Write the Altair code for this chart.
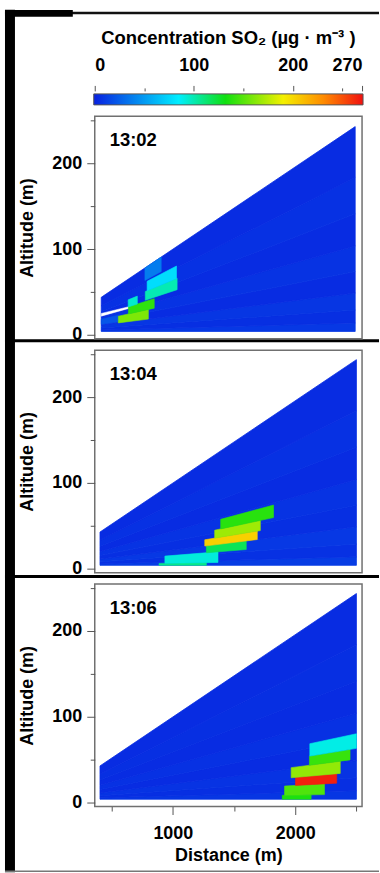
import altair as alt
import pandas as pd

# ---------------- data ----------------
times = ["13:02", "13:04", "13:06"]

lidar_alt = 4.0          # m, altitude of the beam origin
top_slope = 0.0958       # tan of highest elevation

# background beams (elevation tangents) and their (low) concentrations
bg_edges = [0.0, 0.004, 0.010, 0.018, 0.028, 0.040, 0.055, 0.072, 0.0958]
bg_vals = [
    [10, 6, 9, 5, 8, 5, 7, 5],
    [12, 7, 10, 6, 8, 5, 7, 5],
    [9, 6, 8, 5, 7, 5, 6, 5],
]
bg_start = [415, 405, 405]
bg_end = [2490, 2500, 2500]

# plume cells: range start/end (m), elevation tangent low/high, concentration
c1_x1 = [415, 555, 637, 635, 775, 790, 772]
c1_x2 = [555, 800, 848, 710, 1035, 1030, 905]
c1_s1 = [0.020, 0.018, 0.032, 0.045, 0.047, 0.060, 0.077]
c1_s2 = [0.034, 0.032, 0.045, 0.058, 0.060, 0.074, 0.0958]
c1_v = [22, 160, 140, 95, 100, 78, 38]

c2_x1 = [887, 935, 1274, 1261, 1342, 1391]
c2_x2 = [1274, 1369, 1600, 1690, 1715, 1823]
c2_s1 = [0.0, 0.0025, 0.0115, 0.0178, 0.0236, 0.0305]
c2_s2 = [0.0025, 0.0115, 0.0178, 0.0236, 0.0305, 0.0385]
c2_v = [108, 92, 118, 203, 168, 138]

c3_x1 = [1894, 1913, 2002, 1967, 2116, 2119]
c3_x2 = [2130, 2239, 2339, 2368, 2448, 2500]
c3_s1 = [0.0, 0.0024, 0.0080, 0.0127, 0.0187, 0.0237]
c3_s2 = [0.0024, 0.0080, 0.0127, 0.0187, 0.0237, 0.0305]
c3_v = [135, 148, 265, 165, 142, 90]

# missing-data sliver in the first scan (start / end elevation pairs)
gap_x = [415, 640]
gap_s_start = [0.043, 0.0505]
gap_s_end = [0.042, 0.045]

# colour scale
c_dom = [0, 85, 132, 190, 230, 270]
c_rng = ["#0820e0", "#00eeff", "#10e010", "#f4f000", "#ff8c00", "#f01010"]
cb_ticks = [0, 50, 100, 150, 200, 250, 270]
y_ticks = [0, 50, 100, 150, 200, 250]
x_ticks = [500, 1000, 1500, 2000, 2500]

# ---------------- table ----------------
rows = []


def add(panel, kind, cid, x1, x2, sa1, sa2, sb1, sb2, v):
    rows.append(dict(panel=panel, kind=kind, cid=cid, x=x1,
                     ylo=lidar_alt + sa1 * x1, yhi=lidar_alt + sa2 * x1, v=v))
    rows.append(dict(panel=panel, kind=kind, cid=cid, x=x2,
                     ylo=lidar_alt + sb1 * x2, yhi=lidar_alt + sb2 * x2, v=v))


cells = [
    (c1_x1, c1_x2, c1_s1, c1_s2, c1_v),
    (c2_x1, c2_x2, c2_s1, c2_s2, c2_v),
    (c3_x1, c3_x2, c3_s1, c3_s2, c3_v),
]
for p in range(3):
    for k, v in enumerate(bg_vals[p]):
        add(p, "bg", f"b{k}", bg_start[p], bg_end[p],
            bg_edges[k], bg_edges[k + 1], bg_edges[k], bg_edges[k + 1], v)
    x1s, x2s, s1s, s2s, vs = cells[p]
    for k in range(len(x1s)):
        add(p, "cell", f"c{k}", x1s[k], x2s[k], s1s[k], s2s[k], s1s[k], s2s[k], vs[k])
add(0, "gap", "g0", gap_x[0], gap_x[1], gap_s_start[0], gap_s_start[1],
    gap_s_end[0], gap_s_end[1], 0)
df = pd.DataFrame(rows)

cscale = alt.Scale(domain=c_dom, range=c_rng, interpolate="rgb")

FONT = "Liberation Sans"


def panel(i, show_x):
    d = df[df.panel == i]
    if show_x:
        xax = alt.Axis(values=x_ticks, format="d",
                       labelExpr="datum.value % 1000 === 0 ? datum.label : ''",
                       tickSize={"condition": {"test": "datum.value % 1000 === 0", "value": 8},
                                 "value": 4.5},
                       labelPadding=10, titleY=54.5, titleBaseline="alphabetic",
                       title="Distance (m)")
    else:
        xax = None
    yax = alt.Axis(values=y_ticks, format="d",
                   labelExpr="datum.value % 100 === 0 ? datum.label : ''",
                   tickSize={"condition": {"test": "datum.value % 100 === 0", "value": 8},
                             "value": 4.5},
                   labelPadding=5, titleX=-62.5, titleBaseline="alphabetic",
                   title="Altitude (m)")
    X = alt.X("x:Q", scale=alt.Scale(domain=[362, 2546], nice=False, zero=False), axis=xax)
    Y = alt.Y("ylo:Q", scale=alt.Scale(domain=[-4.5, 254.5], nice=False, zero=False), axis=yax)
    col = alt.Color("v:Q", scale=cscale, legend=None)
    stk = alt.Stroke("v:Q", scale=cscale, legend=None)
    base = alt.Chart(d)
    bg = base.transform_filter("datum.kind == 'bg'").mark_area(strokeWidth=0.8).encode(
        x=X, y=Y, y2=alt.Y2("yhi:Q"), detail="cid:N", color=col, stroke=stk)
    layers = [bg]
    if (d.kind == "gap").any():
        gap = base.transform_filter("datum.kind == 'gap'").mark_area(
            fill="white", stroke="white", strokeWidth=0.5).encode(
            x=X, y=Y, y2=alt.Y2("yhi:Q"), detail="cid:N")
        layers.append(gap)
    cl = base.transform_filter("datum.kind == 'cell'").mark_area(strokeWidth=0.6).encode(
        x=X, y=Y, y2=alt.Y2("yhi:Q"), detail="cid:N", color=col, stroke=stk)
    layers.append(cl)
    lab = alt.Chart(pd.DataFrame({"t": [times[i]]})).mark_text(
        align="left", baseline="alphabetic", font=FONT, fontSize=18.5,
        fontWeight="bold", color="black").encode(
        x=alt.value(15), y=alt.value(29.5), text="t:N")
    layers.append(lab)
    return alt.layer(*layers).properties(width=268, height=223)


# ---------------- colour bar ----------------
one = pd.DataFrame({"a": [0]})
stops = [alt.GradientStop(offset=v / 270, color=c) for v, c in zip(c_dom, c_rng)]
ramp = alt.Chart(one).mark_rect(
    fill=alt.Gradient(gradient="linear", stops=stops, x1=0, x2=1, y1=0, y2=0),
    stroke="#555555", strokeWidth=1).encode(
    x=alt.value(-1), x2=alt.value(269), y=alt.value(0), y2=alt.value(11))
cb_axis = alt.Axis(orient="top", values=cb_ticks, format="d",
                   labelExpr="datum.value % 100 === 0 || datum.value === 270 ? datum.label : ''",
                   tickSize={"condition": {"test": "datum.value % 100 === 0 || datum.value === 270",
                                           "value": 5.5}, "value": 3},
                   offset=3, labelPadding=14.5, labelBaseline="alphabetic", title=None)
axis_layer = alt.Chart(pd.DataFrame({"v": cb_ticks})).mark_point(opacity=0).encode(
    x=alt.X("v:Q", scale=alt.Scale(domain=[0, 270], nice=False, zero=False), axis=cb_axis))
cb_title = alt.Chart(one).mark_text(
    text="Concentration SO\u2082 (\u00b5g \u00b7 m\u207b\u00b3 )", font=FONT, fontSize=18.5,
    fontWeight="bold", align="center", baseline="alphabetic", color="black").encode(
    x=alt.value(134), y=alt.value(-50.5))

# invisible rectangle spanning the whole 380x873 canvas (fixes the page bounds)
canvas = alt.Chart(one).mark_rect(opacity=0).encode(
    x=alt.value(-95), x2=alt.value(285), y=alt.value(-92.5), y2=alt.value(780.5))


# frame decorations of the original figure (pixel offsets from the colour bar origin)
def hrule(x1, x2, y, w, c):
    return alt.Chart(one).mark_rule(strokeWidth=w, color=c, strokeCap="square").encode(
        x=alt.value(x1 + w / 2), x2=alt.value(x2 - w / 2), y=alt.value(y))


def vrule(x, y1, y2, w, c):
    return alt.Chart(one).mark_rule(strokeWidth=w, color=c, strokeCap="square").encode(
        x=alt.value(x), y=alt.value(y1 + w / 2), y2=alt.value(y2 - w / 2))


decos = [
    vrule(-85, -84.5, 780.5, 10, "black"),
    hrule(-90, 285, -81.2, 2.5, "#111111"),
    hrule(-90, -22, -80.8, 6.7, "black"),
    hrule(-90, 285, 247.5, 3, "black"),
    hrule(-90, 285, 483.8, 3, "black"),
    hrule(-90, 285, 779.5, 1.5, "#777777"),
]

cbar = alt.layer(canvas, axis_layer, ramp, cb_title, *decos).properties(
    width=268, height=11, view=alt.ViewBackground(stroke=None))

chart = alt.vconcat(cbar, panel(0, False), panel(1, False), panel(2, True),
                    spacing=11.5, bounds="flush").properties(
    padding=0,
    background="white",
).configure_view(stroke="#707070", strokeWidth=1.5).configure_axis(
    labelFont=FONT, labelFontSize=18, labelFontWeight="bold", labelColor="black",
    titleFont=FONT, titleFontSize=18, titleFontWeight="bold", titleColor="black",
    tickColor="#555555", tickWidth=1, domain=False, grid=False,
)

chart.save("out.html", embed_options={"renderer": "svg", "actions": False})
